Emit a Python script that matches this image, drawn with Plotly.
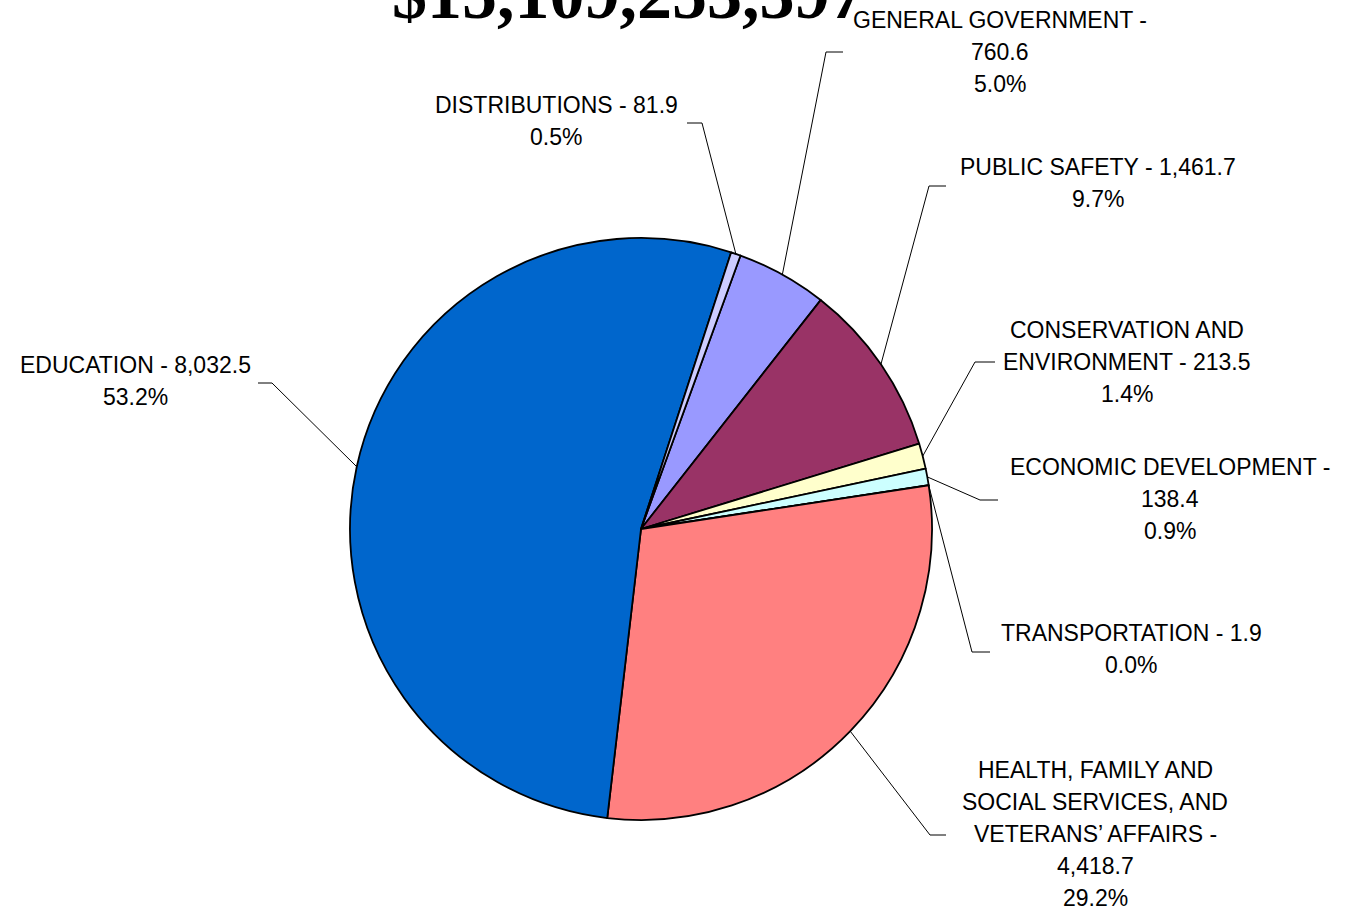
import math
import plotly.graph_objects as go

# ---- data (clockwise order, starting after Distributions) ----
categories = ["GENERAL GOVERNMENT", "PUBLIC SAFETY", "CONSERVATION AND ENVIRONMENT",
              "ECONOMIC DEVELOPMENT", "TRANSPORTATION",
              "HEALTH, FAMILY AND SOCIAL SERVICES, AND VETERANS' AFFAIRS",
              "EDUCATION", "DISTRIBUTIONS"]
values = [760.6, 1461.7, 213.5, 138.4, 1.9, 4418.7, 8032.5, 81.9]
colors = ["#9999FF", "#993366", "#FFFFCC", "#CCFFFF", "#660066", "#FF8080", "#0066CC", "#CCCCFF"]
title_text = "$15,109,253,397"

# label text lines (as shown in the chart)
label_lines = [
    ["GENERAL GOVERNMENT -", "760.6", "5.0%"],
    ["PUBLIC SAFETY - 1,461.7", "9.7%"],
    ["CONSERVATION AND", "ENVIRONMENT - 213.5", "1.4%"],
    ["ECONOMIC DEVELOPMENT -", "138.4", "0.9%"],
    ["TRANSPORTATION - 1.9", "0.0%"],
    ["HEALTH, FAMILY AND", "SOCIAL SERVICES, AND", "VETERANS\u2019 AFFAIRS -", "4,418.7", "29.2%"],
    ["EDUCATION - 8,032.5", "53.2%"],
    ["DISTRIBUTIONS - 81.9", "0.5%"],
]

# ---- layout (pixel positions of labels / leader elbows) ----
W, H = 1347, 911
CX, CY, R = 641, 529, 291
ROTATION = 20
label_pos = [  # (center x, first line y)
    (1000, 20), (1098, 167), (1127, 330), (1170, 467),
    (1131, 633), (1095, 770), (135, 365), (556, 105),
]
leader_elbow = [  # (elbow x, elbow y, end x)
    (826, 52, 843), (929, 186, 946), (975, 362, 995), (980, 500, 998),
    (972, 652, 990), (930, 835, 946), (272, 383, 258), (702, 123, 687),
]
LINE_GAP = 32

def px(x):
    return x / W

def py(y):
    return 1 - y / H

fig = go.Figure(go.Pie(
    labels=categories, values=values, sort=False, direction="clockwise",
    rotation=ROTATION, textinfo="none", hoverinfo="label+value+percent",
    marker=dict(colors=colors, line=dict(color="black", width=1.8)),
    domain=dict(x=[px(CX - R), px(CX + R)], y=[py(CY + R), py(CY - R)]),
    showlegend=False,
))

annotations = []
shapes = []
total = sum(values)
cum = 0.0
for i, v in enumerate(values):
    mid = ROTATION + (cum + v / 2) / total * 360
    cum += v
    a = math.radians(mid)
    ex, ey = CX + R * math.sin(a), CY - R * math.cos(a)
    bx, by, endx = leader_elbow[i]
    shapes.append(dict(type="path", xref="paper", yref="paper",
                       path=f"M {px(ex)} {py(ey)} L {px(bx)} {py(by)} L {px(endx)} {py(by)}",
                       line=dict(color="black", width=1)))
    lx, ly = label_pos[i]
    for j, t in enumerate(label_lines[i]):
        annotations.append(dict(x=px(lx), y=py(ly + j * LINE_GAP), xref="paper", yref="paper",
                                text=t, showarrow=False, xanchor="center", yanchor="middle",
                                font=dict(family="Liberation Sans, Arial", size=23, color="black")))

annotations.append(dict(x=px(628), y=py(35), xref="paper", yref="paper", text=title_text,
                        showarrow=False, xanchor="center", yanchor="bottom",
                        font=dict(family="Liberation Serif, Times New Roman", size=70,
                                  color="black", weight="bold")))

fig.update_layout(width=W, height=H, margin=dict(l=0, r=0, t=0, b=0),
                  paper_bgcolor="white", plot_bgcolor="white",
                  annotations=annotations, shapes=shapes)

fig.write_html("out.html")
